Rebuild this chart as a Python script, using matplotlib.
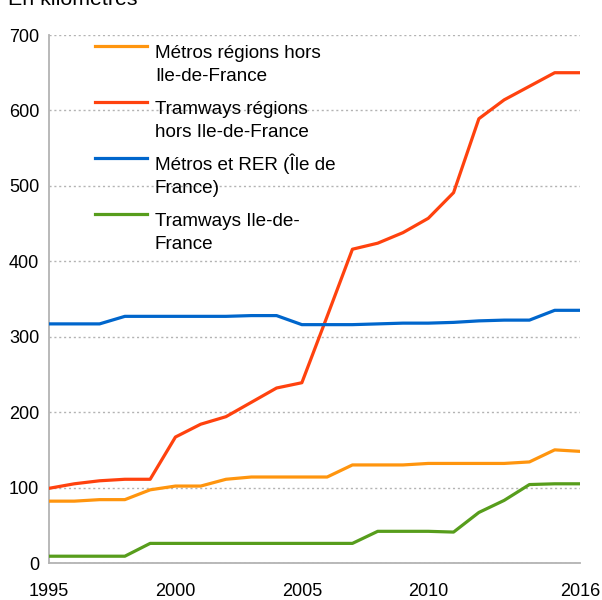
import matplotlib
matplotlib.use('Agg')
import matplotlib.pyplot as plt

plt.rcParams['font.family'] = ['Liberation Sans', 'DejaVu Sans']

years = list(range(1995, 2017))

metros_regions = [82, 82, 84, 84, 97, 102, 102, 111, 114, 114, 114, 114,
                  130, 130, 130, 132, 132, 132, 132, 134, 150, 148]
tram_regions = [99, 105, 109, 111, 111, 167, 184, 194, 213, 232, 239, 327,
                416, 424, 438, 457, 491, 589, 614, 632, 650, 650]
metros_idf = [317, 317, 317, 327, 327, 327, 327, 327, 328, 328, 316, 316,
              316, 317, 318, 318, 319, 321, 322, 322, 335, 335]
tram_idf = [9, 9, 9, 9, 26, 26, 26, 26, 26, 26, 26, 26,
            26, 42, 42, 42, 41, 67, 83, 104, 105, 105]

labels = ['Métros régions hors\nIle-de-France',
          'Tramways régions\nhors Ile-de-France',
          'Métros et RER (Île de\nFrance)',
          'Tramways Ile-de-\nFrance']
colors = ['#ff950e', '#ff420e', '#0066cc', '#579d1c']
series = [metros_regions, tram_regions, metros_idf, tram_idf]

xticks = [1995, 2000, 2005, 2010, 2016]
yticks = [0, 100, 200, 300, 400, 500, 600, 700]

fig = plt.figure(figsize=(6.02, 6.0), dpi=100)
ax = fig.add_axes([49 / 602, 37 / 600, 531 / 602, 528 / 600])

for vals, col in zip(series, colors):
    ax.plot(years, vals, color=col, lw=2.3, solid_joinstyle='round', zorder=3)

ax.set_xlim(1995, 2016)
ax.set_ylim(0, 700)
ax.set_xticks(xticks)
ax.set_yticks(yticks)
ax.tick_params(length=0, labelsize=13, colors='black')
ax.tick_params(axis='x', pad=14.5)
ax.tick_params(axis='y', pad=7)
ax.yaxis.grid(True, color='#b3b3b3', ls=(0, (1.5, 2)), lw=1)
ax.set_axisbelow(True)
for s in ['top', 'right']:
    ax.spines[s].set_visible(False)
for s in ['left', 'bottom']:
    ax.spines[s].set_color('#b3b3b3')
    ax.spines[s].set_linewidth(1.3)

# manual legend, handle aligned with first text line
hy = [46, 102, 158, 214]
for lab, col, py in zip(labels, colors, hy):
    yf = (563 - py) / 528
    ax.plot([(95 - 49) / 531, (147 - 49) / 531], [yf, yf], color=col, lw=2.3,
            transform=ax.transAxes, clip_on=False, zorder=4)
    # baseline of the last line
    ax.text((155 - 49) / 531, (563 - py - 35) / 528, lab, transform=ax.transAxes,
            fontsize=13.6, va='baseline', ha='left', linespacing=1.5)

fig.text(8 / 602, 1 - 5 / 600, 'En kilomètres', fontsize=15.4, va='baseline', ha='left')

plt.savefig('out.png', dpi=100)
